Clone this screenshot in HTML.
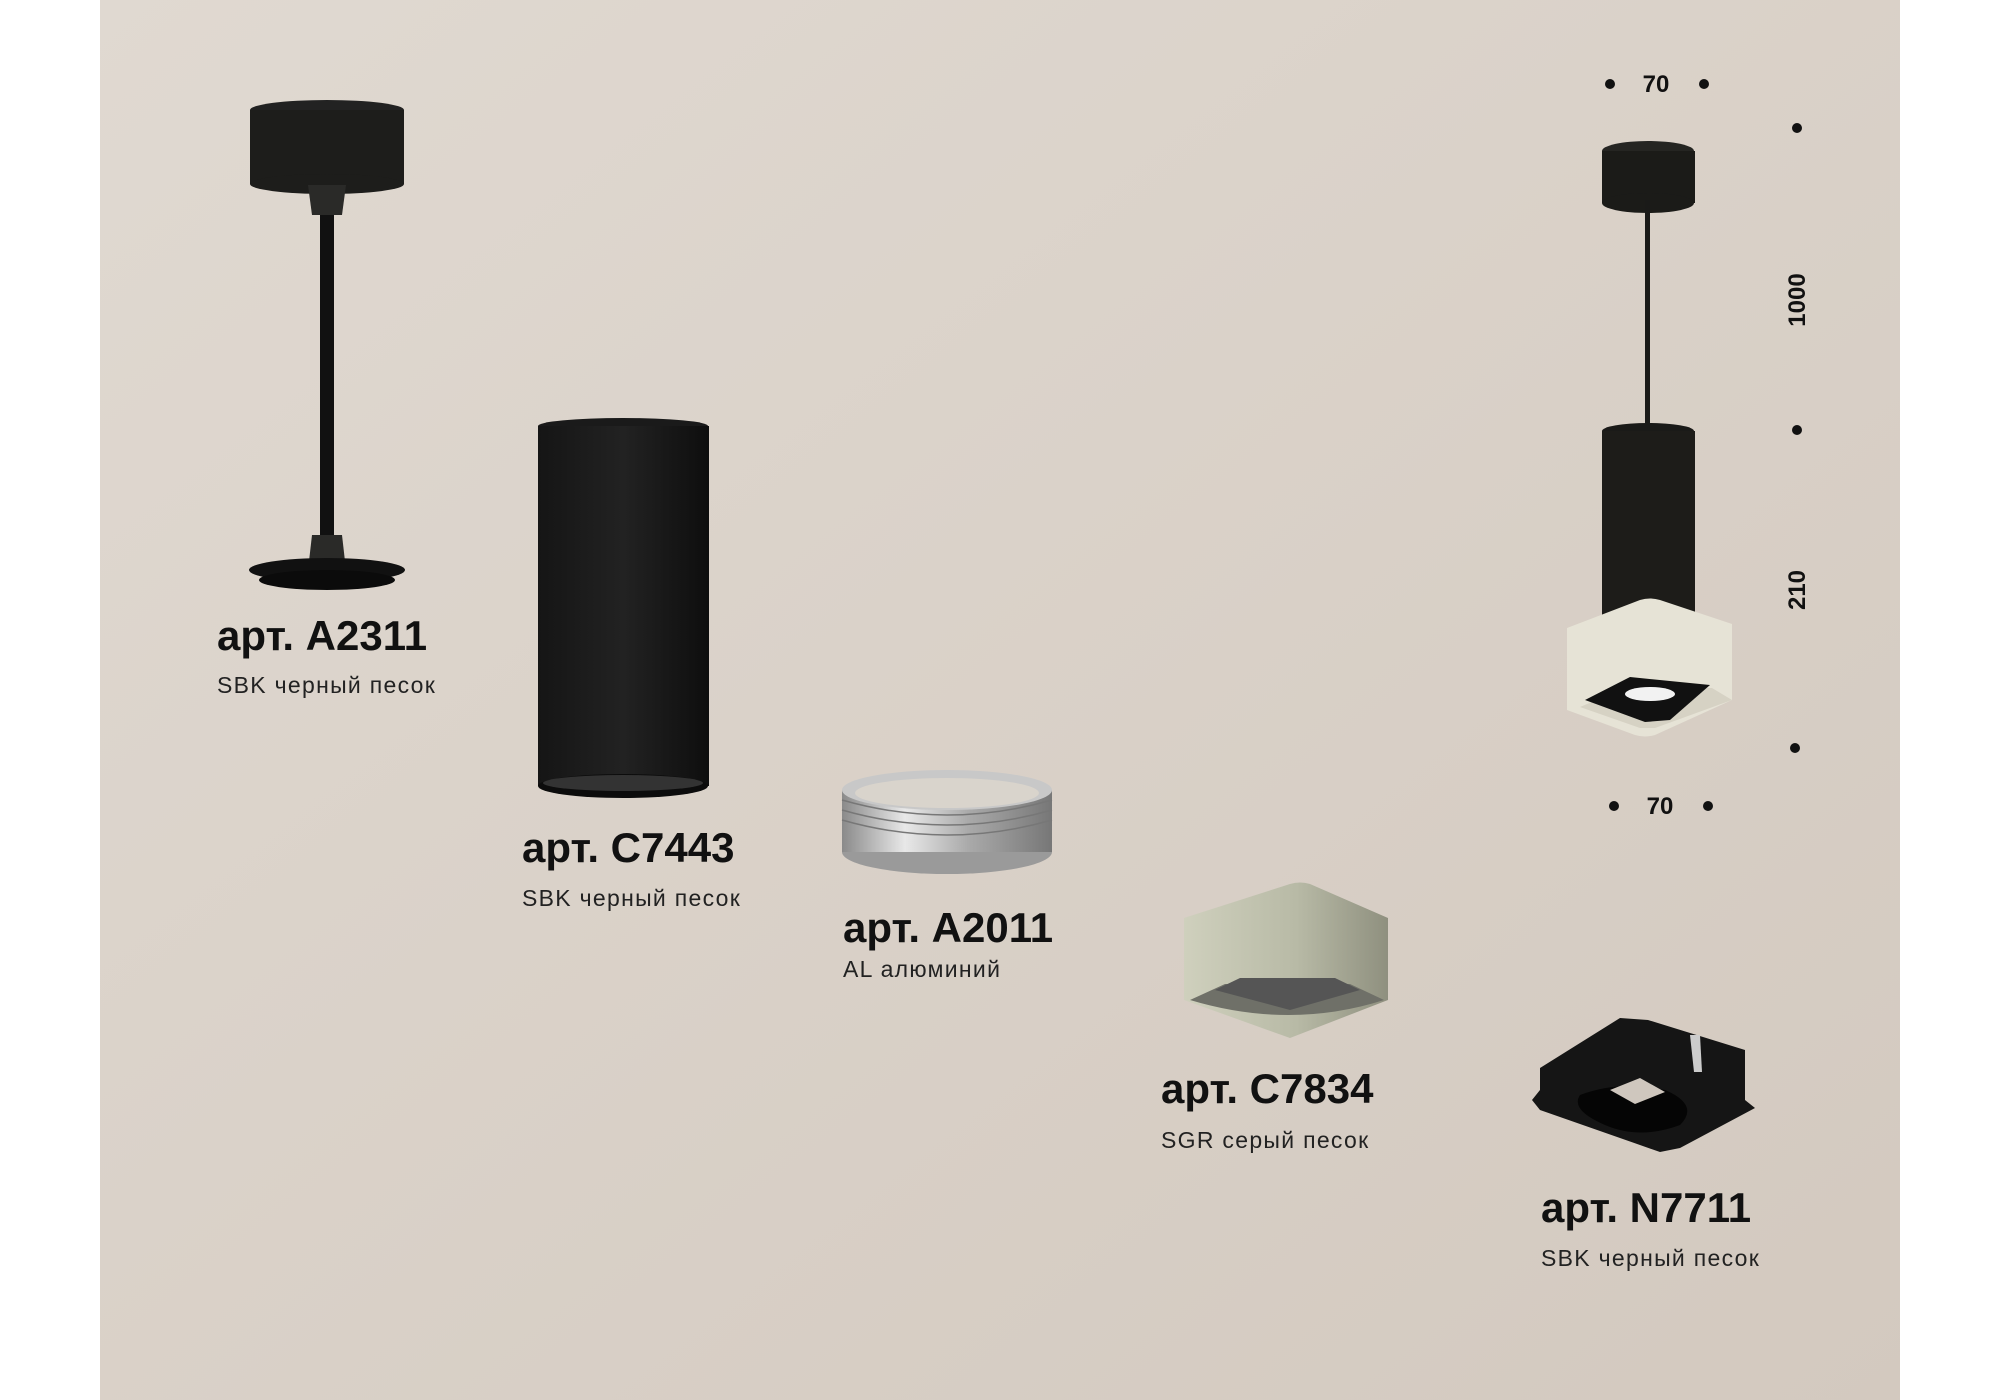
<!DOCTYPE html>
<html><head><meta charset="utf-8"><style>
html,body{margin:0;padding:0;background:#fff;}
svg{display:block;}
.t{font-family:"Liberation Sans",sans-serif;font-weight:bold;font-size:42px;fill:#111;}
.s{font-family:"Liberation Sans",sans-serif;font-size:23px;fill:#222;letter-spacing:1.3px;}
.d{font-family:"Liberation Sans",sans-serif;font-weight:bold;font-size:24px;fill:#111;}
</style></head><body>
<svg width="2000" height="1400" viewBox="0 0 2000 1400" xmlns="http://www.w3.org/2000/svg">
<defs>
<linearGradient id="bg" x1="0" y1="0" x2="1" y2="1">
<stop offset="0" stop-color="#e0d9d1"/><stop offset="1" stop-color="#d3c9bf"/></linearGradient>
<linearGradient id="cyl" x1="0" x2="1"><stop offset="0" stop-color="#151515"/><stop offset="0.5" stop-color="#222"/><stop offset="1" stop-color="#0e0e0e"/></linearGradient>
<linearGradient id="ring" x1="0" x2="1"><stop offset="0" stop-color="#8a8a8a"/><stop offset="0.3" stop-color="#e8e8e8"/><stop offset="0.6" stop-color="#aaa"/><stop offset="1" stop-color="#777"/></linearGradient>
<linearGradient id="grn" x1="0" x2="1"><stop offset="0" stop-color="#cfd0bd"/><stop offset="0.55" stop-color="#b8baa6"/><stop offset="1" stop-color="#8f907f"/></linearGradient>
</defs>
<rect x="100" y="0" width="1800" height="1400" fill="url(#bg)"/>

<!-- A2311 -->
<ellipse cx="327" cy="110" rx="77" ry="10" fill="#222"/>
<rect x="250" y="110" width="154" height="74" fill="#1d1d1b"/>
<ellipse cx="327" cy="184" rx="77" ry="10" fill="#1d1d1b"/>
<path d="M308 185 L346 185 L342 215 L312 215 Z" fill="#2a2a28"/>
<rect x="320" y="215" width="14" height="320" fill="#111"/>
<path d="M312 535 L342 535 L346 570 L308 570 Z" fill="#2a2a28"/>
<ellipse cx="327" cy="570" rx="78" ry="12" fill="#111"/>
<ellipse cx="327" cy="580" rx="68" ry="10" fill="#0b0b0b"/>
<text class="t" x="217" y="650">арт. A2311</text>
<text class="s" x="217" y="693">SBK черный песок</text>

<!-- C7443 -->
<ellipse cx="623" cy="426" rx="85" ry="8" fill="#1a1a1a"/>
<rect x="538" y="426" width="171" height="360" fill="url(#cyl)"/>
<ellipse cx="623" cy="786" rx="85" ry="12" fill="#0c0c0c"/>
<ellipse cx="623" cy="783" rx="80" ry="8" fill="#333"/>
<text class="t" x="522" y="862">арт. C7443</text>
<text class="s" x="522" y="906">SBK черный песок</text>

<!-- A2011 -->
<ellipse cx="947" cy="852" rx="105" ry="22" fill="#9a9a9a"/>
<rect x="842" y="790" width="210" height="62" fill="url(#ring)"/>
<ellipse cx="947" cy="790" rx="105" ry="20" fill="#c8c8c8"/>
<ellipse cx="947" cy="793" rx="92" ry="15" fill="#d9d4cc"/>
<g stroke="#777" stroke-width="1.5" fill="none">
<path d="M842 800 Q947 830 1052 800"/><path d="M842 810 Q947 840 1052 810"/><path d="M842 820 Q947 850 1052 820"/></g>
<text class="t" x="843" y="942">арт. A2011</text>
<text class="s" x="843" y="977">AL алюминий</text>

<!-- C7834 -->
<path d="M1184 918 L1290 884 Q1300 881 1310 884 L1388 918 L1388 1000 L1290 1038 L1184 1000 Z" fill="url(#grn)"/>
<path d="M1190 1000 Q1290 1030 1384 1000 L1350 984 L1225 984 Z" fill="#6f7068"/>
<path d="M1215 990 L1290 1010 L1360 990 L1335 978 L1240 978 Z" fill="#555"/>
<text class="t" x="1161" y="1103">арт. C7834</text>
<text class="s" x="1161" y="1148">SGR серый песок</text>

<!-- N7711 -->
<path d="M1540 1068 L1620 1018 L1648 1020 L1745 1050 L1745 1100 L1755 1108 L1680 1148 L1660 1152 L1540 1110 L1532 1100 L1540 1090 Z" fill="#151515"/>
<path d="M1580 1095 Q1620 1080 1665 1090 Q1700 1105 1680 1125 Q1640 1140 1605 1125 Q1570 1110 1580 1095 Z" fill="#050505"/>
<path d="M1610 1090 L1640 1078 L1665 1092 L1635 1104 Z" fill="#cfc7be"/>
<path d="M1690 1035 L1700 1035 L1702 1072 L1694 1072 Z" fill="#ccc"/>
<text class="t" x="1541" y="1222">арт. N7711</text>
<text class="s" x="1541" y="1266">SBK черный песок</text>

<!-- Right fixture -->
<ellipse cx="1648" cy="151" rx="46" ry="10" fill="#252522"/>
<rect x="1602" y="151" width="93" height="52" fill="#1b1b18"/>
<ellipse cx="1648" cy="203" rx="46" ry="10" fill="#1b1b18"/>
<rect x="1645" y="200" width="5" height="225" fill="#1a1a18"/>
<ellipse cx="1648" cy="431" rx="46" ry="8" fill="#1a1a18"/>
<rect x="1602" y="431" width="93" height="185" fill="#1d1c19"/>
<path d="M1567 628 L1640 600 Q1650 597 1660 600 L1732 624 L1732 700 L1655 735 Q1645 738 1635 735 L1567 710 Z" fill="#e6e3d6"/>
<path d="M1580 707 L1625 688 L1712 688 L1732 700 L1655 728 L1640 728 Z" fill="#d6d2c4"/>
<path d="M1585 700 L1630 677 L1710 685 L1670 720 L1645 722 Z" fill="#111"/>
<ellipse cx="1650" cy="694" rx="25" ry="7" fill="#f2f2f2"/>

<!-- dimensions -->
<g fill="#111">
<circle cx="1610" cy="84" r="5"/><circle cx="1704" cy="84" r="5"/>
<circle cx="1614" cy="806" r="5"/><circle cx="1708" cy="806" r="5"/>
<circle cx="1797" cy="128" r="5"/><circle cx="1797" cy="430" r="5"/><circle cx="1795" cy="748" r="5"/>
</g>
<text class="d" x="1656" y="92" text-anchor="middle">70</text>
<text class="d" x="1660" y="814" text-anchor="middle">70</text>
<text class="d" transform="translate(1805,300) rotate(-90)" text-anchor="middle">1000</text>
<text class="d" transform="translate(1805,590) rotate(-90)" text-anchor="middle">210</text>
</svg>
</body></html>
